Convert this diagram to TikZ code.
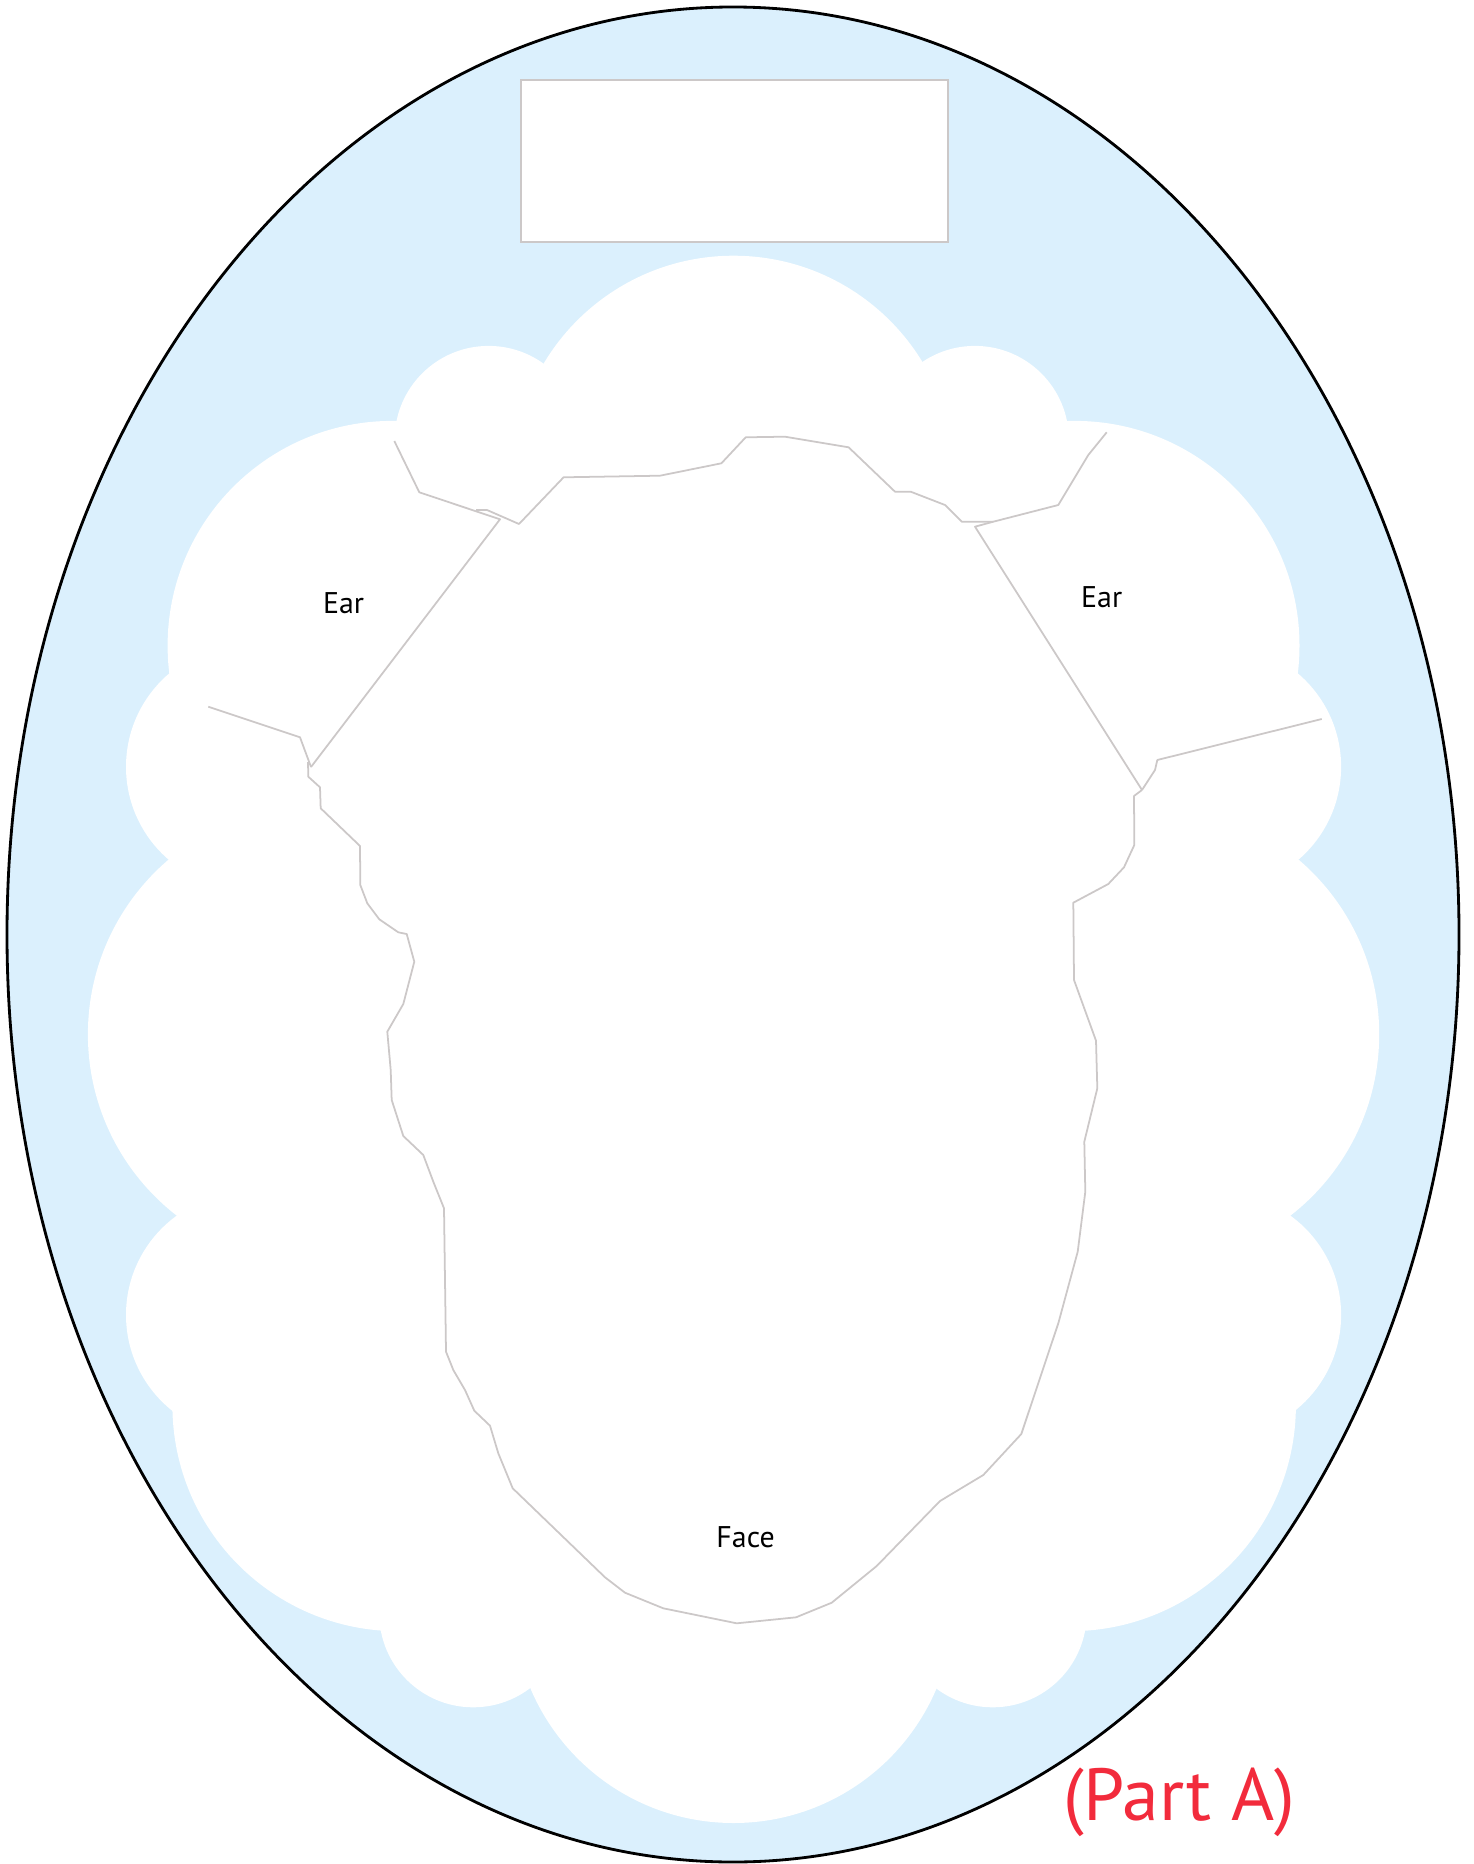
\documentclass[tikz,border=0pt]{standalone}
\usepackage{fontspec}
\setmainfont{PT Sans}
\definecolor{sky}{HTML}{DBF0FD}
\definecolor{seamgray}{HTML}{CCC8C8}
\definecolor{partred}{HTML}{F22B3C}
\tikzset{seam/.style={draw=seamgray,line width=.5pt,line join=round}}

\begin{document}
\begin{tikzpicture}[x=.01cm,y=-.01cm,every node/.style={text=black,font=\fontsize{8.5}{10}\selectfont}]
\useasboundingbox (0,0) rectangle (1473,1864);
% the oval background
\fill[sky] (733,934.5) ellipse [x radius=726,y radius=927.5];
\draw[black,line width=.8pt] (733,934.5) ellipse [x radius=726,y radius=927.5];
% empty name box at the top
\filldraw[fill=white,draw=seamgray,line width=.6pt] (521,80) rectangle (948,242);
% white cloud: a core polygon through the bump centres, then the bumps
\fill[white] (733.5,476.7) -- (974.9,439.9) -- (1074.8,645.6) -- (1218.6,766.8) -- (1149.7,1034.3)
  -- (1218.6,1314.9) -- (1070,1405.3) -- (992.7,1613.3) -- (733.5,1602.6) -- (473.2,1613.3)
  -- (398.3,1405.3) -- (248.5,1314.9) -- (317.4,1034.3) -- (248.5,766.8) -- (392.3,645.6)
  -- (488.6,439.9) -- cycle;
\foreach \x/\y/\r in {733.5/476.7/221, 488.6/439.9/94, 974.9/439.9/94,
  392.3/645.6/224.7, 1074.8/645.6/224.7, 248.5/766.8/122.5, 1218.6/766.8/122.5,
  317.4/1034.3/229.5, 1149.7/1034.3/229.5, 248.5/1314.9/122.5, 1218.6/1314.9/122.5,
  398.3/1405.3/225.9, 1070/1405.3/225.9, 473.2/1613.3/94, 992.7/1613.3/94,
  733.5/1602.6/220.4}{
  \fill[white] (\x,\y) circle (\r);
}
% left ear
\draw[seam] (394.3,441) -- (419.3,492.3) -- (500,519.3) -- (311,767);
\draw[seam] (208.3,706.7) -- (300,737.3) -- (311,767);
% right ear
\draw[seam] (1106.7,432.3) -- (1088.3,455) -- (1058.3,505) -- (993.3,521.7) -- (975,526.7) -- (1142,790);
\draw[seam] (1321.7,719) -- (1157.3,760) -- (1155,770) -- (1142,790);
% face: hairline along the top, then round the cheeks and chin
\draw[seam] (476,510) -- (487,510) -- (519,524) -- (563.6,477.3) -- (660,475.7) -- (721.4,463.3)
  -- (745.7,437.3) -- (785,436.7) -- (848.6,447.3) -- (895,491.7) -- (910.7,491.7)
  -- (945,505) -- (961.8,521.7) -- (993.3,521.7);
\draw[seam] (308,762) -- (308.3,776.7) -- (320,787.3) -- (320.7,808.3) -- (360,846) -- (360.3,885)
  -- (367.3,903.3) -- (379.3,919.3) -- (398.3,932.3) -- (406.7,934) -- (414.3,961.7)
  -- (403.3,1004) -- (387.3,1031.7) -- (390.7,1070) -- (391.7,1100) -- (403.3,1136)
  -- (423.3,1155) -- (433.3,1181.7) -- (444,1208.3) -- (446,1351.7) -- (453.3,1370)
  -- (465,1390) -- (474.3,1410.7) -- (490,1425.7) -- (498.3,1453.3) -- (512.7,1488.3)
  -- (605,1577.3) -- (625,1592.7) -- (663.3,1608.3) -- (736.7,1623.3) -- (796,1617.3)
  -- (831.7,1602.7) -- (876.7,1566) -- (940,1501) -- (983.3,1475) -- (1021.3,1434)
  -- (1058.3,1323.3) -- (1077.7,1251.7) -- (1085.3,1191.7) -- (1084.3,1141.7)
  -- (1097.3,1088.3) -- (1096,1040.7) -- (1074,980) -- (1073.3,902.7) -- (1108.3,884)
  -- (1124,867.3) -- (1134.3,845) -- (1134,796) -- (1142,790);
% labels
\node (earL) at (343.5,602.7) {Ear};
\node (earR) at (1101.7,596.7) {Ear};
\node (face) at (745.6,1537.3) {Face};
\node[text=partred,font=\fontsize{21}{25}\selectfont] (part) at (1179,1802) {(Part A)};
\end{tikzpicture}
\end{document}
